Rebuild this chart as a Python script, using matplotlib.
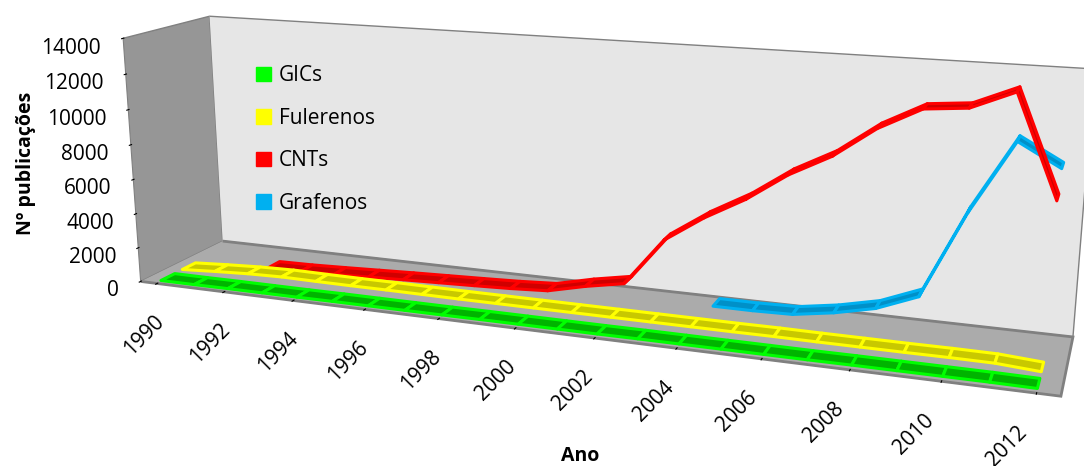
import numpy as np
import matplotlib.pyplot as plt
import matplotlib.transforms as mtransforms
from matplotlib.patches import Patch
from mpl_toolkits.mplot3d import proj3d
from mpl_toolkits.mplot3d.art3d import Poly3DCollection

plt.rcParams['font.family'] = ['Open Sans', 'DejaVu Sans']

# Publicações por ano
anos = np.arange(1990, 2013)
gics = [60, 60, 70, 70, 70, 80, 80, 80, 80, 90, 90, 90, 90, 100, 100, 100,
        100, 100, 110, 110, 110, 110, 90]
fulerenos = [80, 200, 300, 350, 330, 320, 320, 310, 300, 300, 300, 300, 300,
             300, 300, 300, 310, 300, 300, 300, 310, 300, 150]
anos_cnts = np.arange(1992, 2013)
cnts = [0, 30, 100, 180, 260, 330, 400, 480, 600, 1100, 1500, 4150, 5600,
        6800, 8300, 9450, 11050, 12200, 12400, 13350, 8150]
anos_grafenos = np.arange(2004, 2013)
grafenos = [50, 50, 100, 450, 950, 1850, 6550, 10450, 9250]

series = [
    ('GICs', anos, gics, '#00b400', '#00ff00'),
    ('Fulerenos', anos, fulerenos, '#c8c800', '#ffff00'),
    ('CNTs', anos_cnts, cnts, '#d00000', '#ff0000'),
    ('Grafenos', anos_grafenos, grafenos, '#0090c8', '#00b0f0'),
]

fig = plt.figure(figsize=(10.84, 4.66), dpi=100)
ax = fig.add_axes([0.032, 0.094, 1, 1], projection='3d', computed_zorder=False)
ax.set_proj_type('persp', focal_length=0.64)
ax.view_init(elev=14.5, azim=-70)
ax.set_box_aspect((5.6, 0.95, 1.55), zoom=2.083)

ax.set_xlim(1989.5, 2012.5)
ax.set_ylim(0, 4)
ax.set_zlim(0, 14000)

# fitas 3D: cada série numa linha de profundidade
larg = 0.32
for k, (nome, xs, ys, cor_face, cor_borda) in enumerate(series):
    prof = k + 0.5
    quads = []
    for i in range(len(xs) - 1):
        quads.append([(xs[i], prof - larg, ys[i]), (xs[i + 1], prof - larg, ys[i + 1]),
                      (xs[i + 1], prof + larg, ys[i + 1]), (xs[i], prof + larg, ys[i])])
    pc = Poly3DCollection(quads, facecolor=cor_face, edgecolor=cor_borda,
                          linewidth=2.2, zorder=10 - k)
    pc.set_clip_on(False)
    ax.add_collection3d(pc)

# paredes e piso
ax.xaxis.set_pane_color('#969696')
ax.yaxis.set_pane_color('#e6e6e6')
ax.zaxis.set_pane_color('#ababab')
for eixo in (ax.xaxis, ax.yaxis, ax.zaxis):
    eixo.pane.set_edgecolor('#808080')
ax.zaxis.pane.set_linewidth(2)
ax.grid(False)

ax.set_xticks(anos[::2])
ax.set_xticklabels([])
for t in ax.xaxis.get_major_ticks():
    t.tick1line.set_visible(False)
ax.set_yticks([])
ax.set_zticks(np.arange(0, 14001, 2000))
ax.set_zticklabels([str(v) for v in range(0, 14001, 2000)], fontsize=15,
                   ha='right')
ax.tick_params(axis='z', pad=-3.5)
ax.zaxis.set_ticks_position('lower')
ax.yaxis.line.set_color((0, 0, 0, 0))
ax.xaxis.line.set_color('#808080')
ax.zaxis.line.set_color('#808080')

# rótulos dos anos sob a primeira fita, inclinados a 45°
# (o afastamento cresce um pouco para a direita, onde a perspectiva abre)
M = ax.get_proj()
for a in anos[::2]:
    t = (a - anos[0]) / (anos[-1] - anos[0])
    desloc = mtransforms.offset_copy(ax.transData, fig=fig, x=-7 - 8 * t,
                                     y=-40 - 4 * t, units='dots')
    px, py, _ = proj3d.proj_transform(a, 0.5, 0, M)
    ax.text2D(px, py, str(a), transform=desloc, rotation=45, ha='right',
              va='center', rotation_mode='anchor', fontsize=15)

fig.text(0.535, 0.01, 'Ano', fontsize=14, fontweight='bold', ha='center')
fig.text(0.015, 0.65, 'Nº publicações', fontsize=14, fontweight='bold',
         rotation=90, va='center')

handles = [Patch(facecolor=s[4], edgecolor=s[4], label=s[0]) for s in series]
fig.legend(handles=handles, loc='upper left', bbox_to_anchor=(0.219, 0.9),
           frameon=False, fontsize=15, labelspacing=1.03, handlelength=0.7,
           handleheight=0.7, handletextpad=0.4)

fig.savefig('out.png', dpi=100)
